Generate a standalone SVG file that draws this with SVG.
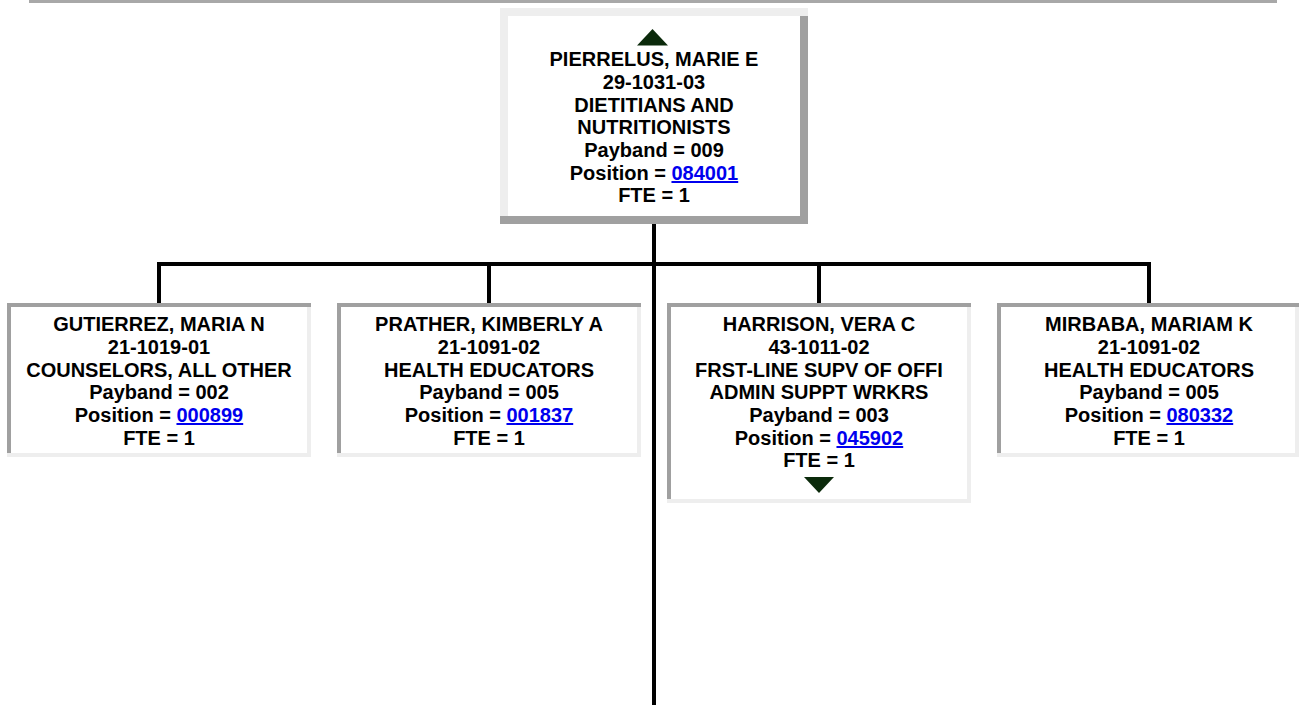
<svg xmlns="http://www.w3.org/2000/svg" width="1299" height="709" viewBox="0 0 1299 709">
<style>
.t{font-family:"Liberation Sans",Arial,sans-serif;font-weight:bold;font-size:20px;fill:#000;text-anchor:middle}
.lk{fill:#0000ee;text-decoration:underline}
.dk{fill:#a0a0a0}
.lt{fill:#eeeeee}
.in{fill:#ffffff}
.conn{stroke:#000;stroke-width:4;fill:none}
.tri{fill:#0b2a0b}
</style>
<rect width="1299" height="709" fill="#fff"/>
<rect x="29" y="0" width="1248" height="3" fill="#a8a8a8"/>

<g id="connectors">
<line class="conn" x1="654" y1="223" x2="654" y2="705"/>
<line class="conn" x1="157" y1="264" x2="1151" y2="264"/>
<line class="conn" x1="159" y1="262" x2="159" y2="303"/>
<line class="conn" x1="489" y1="264" x2="489" y2="303"/>
<line class="conn" x1="819" y1="264" x2="819" y2="303"/>
<line class="conn" x1="1149" y1="262" x2="1149" y2="303"/>
</g>

<g id="node-pierrelus">
<rect class="dk" x="500" y="8" width="308" height="216"/>
<rect class="lt" x="500" y="8" width="308" height="8"/>
<rect class="lt" x="500" y="8" width="8" height="208"/>
<rect class="in" x="508" y="16" width="292" height="200"/>
<polygon class="tri" points="637,45.5 652.5,29 668,45.5"/>
<text class="t" x="654" y="66">PIERRELUS, MARIE E</text>
<text class="t" x="654" y="89">29-1031-03</text>
<text class="t" x="654" y="112">DIETITIANS AND</text>
<text class="t" x="654" y="134">NUTRITIONISTS</text>
<text class="t" x="654" y="157">Payband = 009</text>
<text class="t" x="654" y="180">Position = <tspan class="lk">084001</tspan></text>
<text class="t" x="654" y="202">FTE = 1</text>
</g>

<g id="node-gutierrez">
<rect class="lt" x="7" y="303" width="304" height="154"/>
<rect class="dk" x="7" y="303" width="304" height="4"/>
<rect class="dk" x="7" y="303" width="4" height="150"/>
<rect class="in" x="11" y="307" width="296" height="146"/>
<text class="t" x="159" y="331">GUTIERREZ, MARIA N</text>
<text class="t" x="159" y="354">21-1019-01</text>
<text class="t" x="159" y="377">COUNSELORS, ALL OTHER</text>
<text class="t" x="159" y="399">Payband = 002</text>
<text class="t" x="159" y="422">Position = <tspan class="lk">000899</tspan></text>
<text class="t" x="159" y="445">FTE = 1</text>
</g>

<g id="node-prather">
<rect class="lt" x="337" y="303" width="304" height="154"/>
<rect class="dk" x="337" y="303" width="304" height="4"/>
<rect class="dk" x="337" y="303" width="4" height="150"/>
<rect class="in" x="341" y="307" width="296" height="146"/>
<text class="t" x="489" y="331">PRATHER, KIMBERLY A</text>
<text class="t" x="489" y="354">21-1091-02</text>
<text class="t" x="489" y="377">HEALTH EDUCATORS</text>
<text class="t" x="489" y="399">Payband = 005</text>
<text class="t" x="489" y="422">Position = <tspan class="lk">001837</tspan></text>
<text class="t" x="489" y="445">FTE = 1</text>
</g>

<g id="node-harrison">
<rect class="lt" x="667" y="303" width="304" height="200"/>
<rect class="dk" x="667" y="303" width="304" height="4"/>
<rect class="dk" x="667" y="303" width="4" height="196"/>
<rect class="in" x="671" y="307" width="296" height="192"/>
<text class="t" x="819" y="331">HARRISON, VERA C</text>
<text class="t" x="819" y="354">43-1011-02</text>
<text class="t" x="819" y="377">FRST-LINE SUPV OF OFFI</text>
<text class="t" x="819" y="399">ADMIN SUPPT WRKRS</text>
<text class="t" x="819" y="422">Payband = 003</text>
<text class="t" x="819" y="445">Position = <tspan class="lk">045902</tspan></text>
<text class="t" x="819" y="467">FTE = 1</text>
<polygon class="tri" points="804,477 834,477 819,493"/>
</g>

<g id="node-mirbaba">
<rect class="lt" x="997" y="303" width="304" height="154"/>
<rect class="dk" x="997" y="303" width="304" height="4"/>
<rect class="dk" x="997" y="303" width="4" height="150"/>
<rect class="in" x="1001" y="307" width="294" height="146"/>
<text class="t" x="1149" y="331">MIRBABA, MARIAM K</text>
<text class="t" x="1149" y="354">21-1091-02</text>
<text class="t" x="1149" y="377">HEALTH EDUCATORS</text>
<text class="t" x="1149" y="399">Payband = 005</text>
<text class="t" x="1149" y="422">Position = <tspan class="lk">080332</tspan></text>
<text class="t" x="1149" y="445">FTE = 1</text>
</g>
</svg>
